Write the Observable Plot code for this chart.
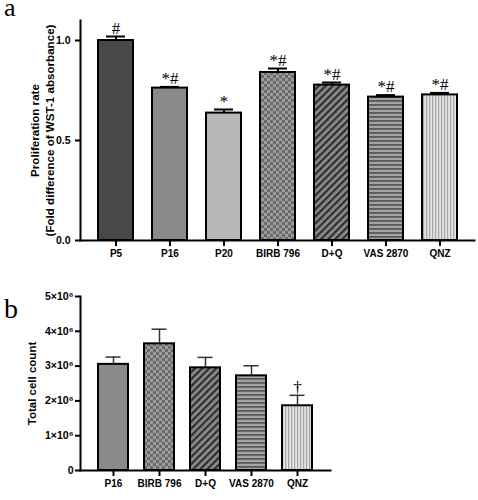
<!DOCTYPE html>
<html><head><meta charset="utf-8">
<script src="https://cdn.jsdelivr.net/npm/d3@7"></script>
<script src="https://cdn.jsdelivr.net/npm/@observablehq/plot@0.6"></script>
<style>
body{margin:0;background:#fff;width:478px;height:500px;position:relative;overflow:hidden}
#a{position:absolute;left:0;top:0}
#b{position:absolute;left:0;top:286px}
.panel{position:absolute;left:4px;font-family:'Liberation Serif','Times New Roman',serif;line-height:16px;color:#000}
#la{top:0;font-size:26px}
#lb{top:301px;font-size:28px}
</style></head><body>
<svg width="0" height="0" style="position:absolute">
<defs>
<pattern id="pBirb" patternUnits="userSpaceOnUse" width="6" height="6">
 <rect width="6" height="6" fill="#9c9c9c"/><rect width="3" height="3" fill="#6b6b6b"/><rect x="3" y="3" width="3" height="3" fill="#6b6b6b"/>
</pattern>
<pattern id="pDQ" patternUnits="userSpaceOnUse" width="5" height="5" patternTransform="rotate(45)">
 <rect width="5" height="5" fill="#8a8a8a"/><rect width="2.2" height="5" fill="#2e2e2e"/>
</pattern>
<pattern id="pVAS" patternUnits="userSpaceOnUse" width="4" height="4">
 <rect width="4" height="4" fill="#a4a4a4"/><rect width="4" height="1.8" fill="#595959"/>
</pattern>
<pattern id="pQNZ" patternUnits="userSpaceOnUse" width="3" height="3">
 <rect width="3" height="3" fill="#e4e4e4"/><rect width="1.2" height="3" fill="#a6a6a6"/>
</pattern>
</defs></svg>
<div id="a"></div><div id="b"></div>
<div class="panel" id="la">a</div>
<div class="panel" id="lb">b</div>
<script>
// Panel a data
const groupsA = ["P5", "P16", "P20", "BIRB 796", "D+Q", "VAS 2870", "QNZ"];
const meanA = [1.0, 0.762, 0.637, 0.84, 0.777, 0.717, 0.728];
const errA = [1.02, 0.768, 0.655, 0.86, 0.79, 0.727, 0.738];
const marksA = ["#", "*#", "*", "*#", "*#", "*#", "*#"];
const ticksA = [0, 0.5, 1.0];
const yLabelA = "Proliferation rate\n(Fold difference of WST-1 absorbance)";
// Panel b data
const groupsB = ["P16", "BIRB 796", "D+Q", "VAS 2870", "QNZ"];
const meanB = [3.05e6, 3.64e6, 2.95e6, 2.72e6, 1.86e6];
const errB = [3.26e6, 4.06e6, 3.25e6, 3.01e6, 2.16e6];
const marksB = ["", "", "", "", "†"];
const ticksB = [0, 1e6, 2e6, 3e6, 4e6, 5e6];
const yLabelB = "Total cell count";
// fills per group
const fillGroups = ["P5", "P16", "P20", "BIRB 796", "D+Q", "VAS 2870", "QNZ"];
const fillValues = ["#484848", "#8a8a8a", "#b8b8b8", "url(#pBirb)", "url(#pDQ)", "url(#pVAS)", "url(#pQNZ)"];

const sans = "'Liberation Sans', Arial, sans-serif";
const serif = "'Liberation Serif', 'Times New Roman', serif";

const dataA = groupsA.map((g, i) => ({g, v: meanA[i], e: errA[i], m: marksA[i]}));
const dataB = groupsB.map((g, i) => ({g, v: meanB[i], e: errB[i], m: marksB[i]}));

const plotA = Plot.plot({
  width: 478, height: 265, marginLeft: 80, marginRight: 4, marginTop: 20, marginBottom: 25,
  style: {fontFamily: sans, fontWeight: "bold", fontSize: "10px", color: "#000", background: "transparent", overflow: "visible"},
  x: {domain: groupsA, paddingInner: 0.36, paddingOuter: 0.29, label: null, axis: null},
  y: {domain: [0, 1.1], label: null, axis: null},
  color: {domain: fillGroups, range: fillValues},
  marks: [
    Plot.barY(dataA, {x: "g", y: "v", fill: "g", stroke: "#000", strokeWidth: 2}),
    Plot.ruleX(dataA, {x: "g", y1: "v", y2: "e", stroke: "#000", strokeWidth: 2}),
    Plot.tickY(dataA, {x: "g", y: "e", stroke: "#000", strokeWidth: 2, insetLeft: 8, insetRight: 8}),
    Plot.text(dataA, {x: "g", y: "e", text: "m", fontFamily: serif, fontWeight: "normal", fontSize: 17, lineAnchor: "bottom", dy: -3}),
    Plot.axisY({ticks: ticksA, tickFormat: ".1f", tickSize: 5, tickPadding: 5, strokeWidth: 2, label: null, fontSize: 10.5, fontWeight: "bold"}),
    Plot.axisX({tickSize: 6, tickPadding: 3, strokeWidth: 2, label: null, fontSize: 10, fontWeight: "bold"}),
    Plot.frame({anchor: "left", strokeWidth: 2}),
    Plot.frame({anchor: "bottom", strokeWidth: 2}),
    Plot.text([yLabelA], {frameAnchor: "left", textAnchor: "middle", rotate: -90, dx: -39, lineHeight: 1.35, fontSize: 11.6, fontWeight: "bold"})
  ]
});
document.getElementById("a").append(plotA);

const plotB = Plot.plot({
  width: 478, height: 214, marginLeft: 80, marginRight: 148, marginTop: 10, marginBottom: 30,
  style: {fontFamily: sans, fontWeight: "bold", fontSize: "10px", color: "#000", background: "transparent", overflow: "visible"},
  x: {domain: groupsB, paddingInner: 0.35, paddingOuter: 0.363, label: null, axis: null},
  y: {domain: [0, 5e6], label: null, axis: null},
  color: {domain: fillGroups, range: fillValues},
  marks: [
    Plot.barY(dataB, {x: "g", y: "v", fill: "g", stroke: "#000", strokeWidth: 2}),
    Plot.ruleX(dataB, {x: "g", y1: "v", y2: "e", stroke: "#333", strokeWidth: 1.5}),
    Plot.tickY(dataB, {x: "g", y: "e", stroke: "#333", strokeWidth: 1.5, insetLeft: 7.5, insetRight: 7.5}),
    Plot.text(dataB, {x: "g", y: "e", text: "m", fontFamily: serif, fontWeight: "normal", fontSize: 17, lineAnchor: "bottom", dy: -2}),
    Plot.axisY({ticks: ticksB, tickFormat: d => d === 0 ? "0" : (d / 1e6) + "×10⁶", tickSize: 5, tickPadding: 2, strokeWidth: 2, label: null, fontSize: 10.5, fontWeight: "bold"}),
    Plot.axisX({tickSize: 6, tickPadding: 3, strokeWidth: 2, label: null, fontSize: 10, fontWeight: "bold"}),
    Plot.frame({anchor: "left", strokeWidth: 2}),
    Plot.frame({anchor: "bottom", strokeWidth: 2}),
    Plot.text([yLabelB], {frameAnchor: "left", textAnchor: "middle", rotate: -90, dx: -48, fontSize: 11.5, fontWeight: "bold"})
  ]
});
document.getElementById("b").append(plotB);
</script>
</body></html>
